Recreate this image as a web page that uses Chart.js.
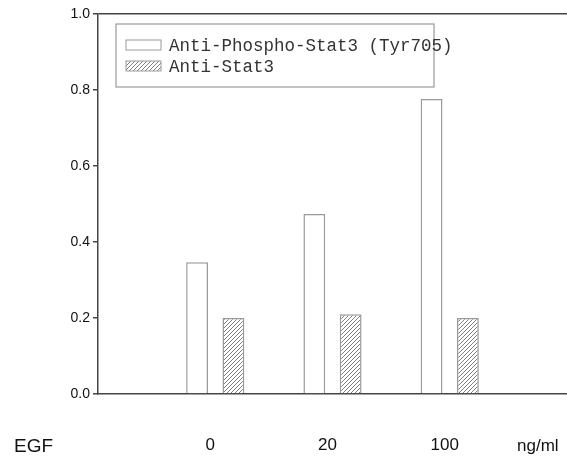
<!DOCTYPE html>
<html>
<head>
<meta charset="utf-8">
<script src="https://cdn.jsdelivr.net/npm/chart.js@4/dist/chart.umd.min.js"></script>
<style>
	body { margin: 0; background: #fff; }
	#wrap { width: 567px; height: 460px; }
</style>
</head>
<body>
<div id="wrap"><canvas id="chart" width="567" height="460"></canvas></div>
<script>
// doses along the x axis, with an empty slot either side
var dose_labels  = ['', '0', '20', '100', ''];
var phospho_vals = [null, 0.347, 0.474, 0.776, null];
var stat3_vals   = [null, 0.200, 0.210, 0.200, null];
var y_ticks      = [0.0, 0.2, 0.4, 0.6, 0.8, 1.0];

var series_names = ['Anti-Phospho-Stat3 (Tyr705)', 'Anti-Stat3'];

function make_hatch() {
	var c = document.createElement('canvas');
	c.width = 4;
	c.height = 4;
	var g = c.getContext('2d');
	g.fillStyle = '#fff';
	g.fillRect(0, 0, 4, 4);
	g.strokeStyle = '#808080';
	g.lineWidth = 1;
	g.beginPath();
	g.moveTo(0, 4); g.lineTo(4, 0);
	g.moveTo(-1, 1); g.lineTo(1, -1);
	g.moveTo(3, 5); g.lineTo(5, 3);
	g.stroke();
	return g.createPattern(c, 'repeat');
}

var hatch = make_hatch();

// legend box drawn inside the plot, like the original figure
var box_legend = {
	id: 'boxLegend',
	afterDraw: function(chart) {
		var ctx = chart.ctx;
		var a = chart.chartArea;
		var left = a.left + 18, top = a.top + 10;

		ctx.save();
		ctx.strokeStyle = '#999';
		ctx.lineWidth = 1.2;
		ctx.fillStyle = '#fff';
		ctx.fillRect(left, top, 318, 63);
		ctx.strokeRect(left, top, 318, 63);

		ctx.font = '17.5px "Liberation Mono", "Courier New", monospace';
		ctx.textBaseline = 'middle';
		chart.data.datasets.forEach(function(ds, i) {
			var y = top + 21 + i * 21;
			ctx.fillStyle = ds.backgroundColor;
			ctx.fillRect(left + 10, y - 5, 35, 10);
			ctx.strokeStyle = ds.borderColor;
			ctx.lineWidth = 1;
			ctx.strokeRect(left + 10, y - 5, 35, 10);
			ctx.fillStyle = '#333';
			ctx.fillText(ds.label, left + 53, y + 1);
		});
		ctx.restore();
	}
};

// "EGF" and "ng/ml" sit either side of the dose labels
var side_labels = {
	id: 'sideLabels',
	afterDraw: function(chart) {
		var ctx = chart.ctx;
		var base = chart.scales.x.top + 58;
		ctx.save();
		ctx.fillStyle = '#111';
		ctx.textBaseline = 'alphabetic';
		ctx.font = '19px "Liberation Sans", Arial, sans-serif';
		ctx.textAlign = 'left';
		ctx.fillText('EGF', 14, base);
		ctx.font = '17px "Liberation Sans", Arial, sans-serif';
		ctx.fillText('ng/ml', 517, base - 1);
		ctx.restore();
	}
};

var ctx = document.getElementById('chart');

var myChart = new Chart(ctx, {
	type: 'bar',
	data: {
		labels: dose_labels,
		datasets: [{
			label: series_names[0],
			data: phospho_vals,
			backgroundColor: '#fff',
			borderColor: '#9a9a9a',
			borderWidth: 1.5
		}, {
			label: series_names[1],
			data: stat3_vals,
			backgroundColor: hatch,
			borderColor: '#9a9a9a',
			borderWidth: 1.5
		}]
	},
	options: {
		responsive: false,
		animation: false,
		layout: { padding: { top: 14, right: 0, left: 0, bottom: 0 } },
		categoryPercentage: 0.62,
		barPercentage: 0.6,
		plugins: {
			legend: { display: false },
			tooltip: { enabled: false }
		},
		scales: {
			x: {
				offset: false,
				grid: { display: false },
				border: { display: true, color: '#444', width: 1.5 },
				ticks: {
					color: '#111',
					font: { family: '"Liberation Sans", Arial, sans-serif', size: 17 },
					padding: 33,
					labelOffset: -5,
					maxRotation: 0,
					autoSkip: false
				},
				afterFit: function(scale) {
					scale.height = 66;
					scale.paddingRight = 0;
					scale.paddingLeft = 0;
				}
			},
			y: {
				min: 0,
				max: 1,
				afterBuildTicks: function(scale) {
					scale.ticks = y_ticks.map(function(v) { return { value: v }; });
				},
				grid: {
					// only the line at 1.0 runs across, as a top frame
					color: function(c) {
						return c.tick && c.tick.value === 1 ? '#444' : 'rgba(0,0,0,0)';
					},
					tickColor: '#444',
					lineWidth: 1.5,
					tickLength: 5
				},
				border: { display: true, color: '#444', width: 1.5 },
				ticks: {
					color: '#111',
					padding: 3,
					font: { family: '"Liberation Sans", Arial, sans-serif', size: 14 },
					callback: function(v) { return Number(v).toFixed(1); }
				},
				afterFit: function(scale) {
					scale.width = 98;
					scale.paddingTop = 0;
				}
			}
		}
	},
	plugins: [box_legend, side_labels]
});
</script>
</body>
</html>
